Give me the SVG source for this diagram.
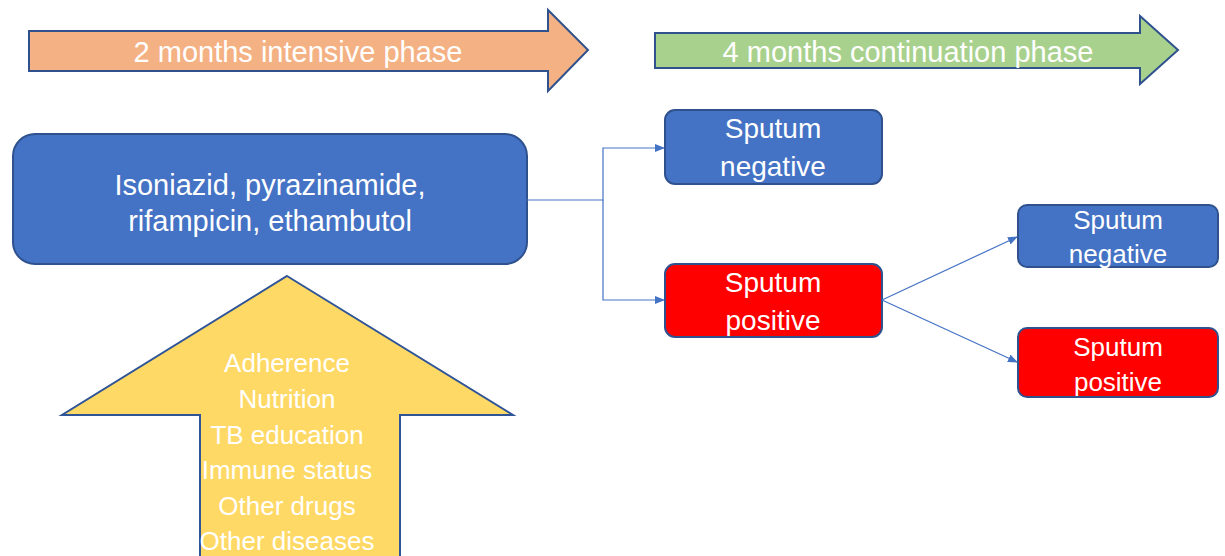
<svg xmlns="http://www.w3.org/2000/svg" width="1225" height="556" viewBox="0 0 1225 556">
<style>
.t{font-family:"Liberation Sans",Arial,sans-serif;fill:#fff;text-anchor:middle}
.blk{stroke:#2F528F;stroke-width:2}
.con{fill:none;stroke:#4472C4;stroke-width:1.2}
</style>
<defs>
<marker id="ah" markerWidth="10" markerHeight="8" refX="9" refY="4" orient="auto" markerUnits="userSpaceOnUse">
<path d="M0,0 L10,4 L0,8 Z" fill="#4472C4"/>
</marker>
</defs>
<rect width="1225" height="556" fill="#fff"/>
<g id="intensive">
<polygon points="29,31 548,31 548,10 588,50 548,91 548,71 29,71" fill="#F4B183" class="blk"/>
<text class="t" x="298" y="62" font-size="29">2 months intensive phase</text>
</g>
<g id="continuation">
<polygon points="655,33 1140,33 1140,16 1178,50 1140,84 1140,68 655,68" fill="#A9D18E" class="blk"/>
<text class="t" x="908" y="62" font-size="29">4 months continuation phase</text>
</g>
<g id="drugs">
<rect x="13" y="134" width="514" height="130" rx="22" fill="#4472C4" class="blk"/>
<text class="t" x="270" y="195" font-size="29">Isoniazid, pyrazinamide,</text>
<text class="t" x="270" y="231" font-size="29">rifampicin, ethambutol</text>
</g>
<g id="factors">
<polygon points="287,276 513,415 400,415 400,560 200,560 200,415 62,415" fill="#FFD966" stroke="#2F5597" stroke-width="2"/>
<text class="t" x="287" y="372" font-size="26">Adherence</text>
<text class="t" x="287" y="408" font-size="26">Nutrition</text>
<text class="t" x="287" y="444" font-size="26">TB education</text>
<text class="t" x="287" y="479" font-size="26">Immune status</text>
<text class="t" x="287" y="515" font-size="26">Other drugs</text>
<text class="t" x="287" y="550" font-size="26">Other diseases</text>
</g>
<g id="neg1">
<rect x="665" y="110" width="217" height="74" rx="10" fill="#4472C4" class="blk"/>
<text class="t" x="773" y="138" font-size="28">Sputum</text>
<text class="t" x="773" y="176" font-size="28">negative</text>
</g>
<g id="pos1">
<rect x="665" y="264" width="217" height="73" rx="10" fill="#FF0000" class="blk"/>
<text class="t" x="773" y="292" font-size="28">Sputum</text>
<text class="t" x="773" y="330" font-size="28">positive</text>
</g>
<g id="neg2">
<rect x="1018" y="205" width="200" height="62" rx="9" fill="#4472C4" class="blk"/>
<text class="t" x="1118" y="229" font-size="26">Sputum</text>
<text class="t" x="1118" y="263" font-size="26">negative</text>
</g>
<g id="pos2">
<rect x="1018" y="328" width="200" height="69" rx="9" fill="#FF0000" class="blk"/>
<text class="t" x="1118" y="356" font-size="26">Sputum</text>
<text class="t" x="1118" y="391" font-size="26">positive</text>
</g>
<g id="connectors">
<polyline class="con" points="527,200 603,200 603,148 664,148" marker-end="url(#ah)"/>
<polyline class="con" points="603,200 603,300 664,300" marker-end="url(#ah)"/>
<line class="con" x1="882" y1="300" x2="1017" y2="237" marker-end="url(#ah)"/>
<line class="con" x1="882" y1="300" x2="1017" y2="362" marker-end="url(#ah)"/>
</g>
</svg>
